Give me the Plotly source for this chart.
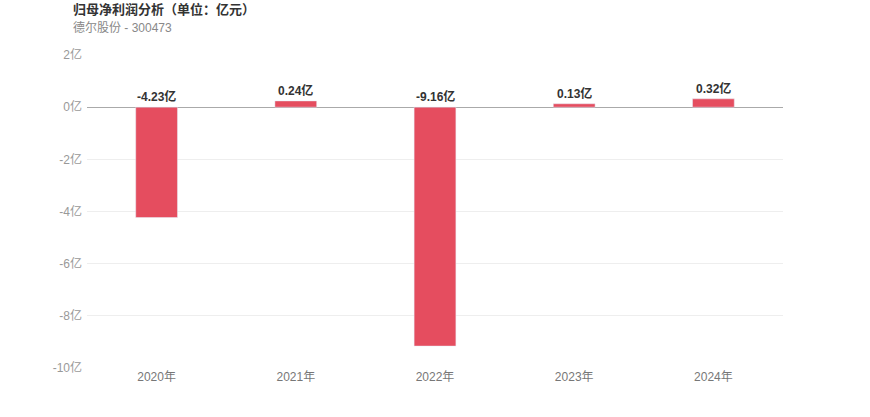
import plotly.graph_objects as go

years = ["2020年", "2021年", "2022年", "2023年", "2024年"]
values = [-4.23, 0.24, -9.16, 0.13, 0.32]
tick_vals = [2, 0, -2, -4, -6, -8, -10]
tick_text = ["2亿", "0亿", "-2亿", "-4亿", "-6亿", "-8亿", "-10亿"]

FONT = "'Liberation Sans', Arial, 'Noto Sans CJK SC', sans-serif"

fig = go.Figure()
fig.add_trace(go.Bar(
    x=years, y=values, marker_color="#e54d5f", width=0.3,
    hoverinfo="x+y",
))

for yr, v in zip(years, values):
    fig.add_annotation(
        x=yr, y=max(v, 0), text=f"<b>{v:.2f}亿</b>", showarrow=False,
        yanchor="bottom", yshift=1,
        font=dict(family=FONT, size=12, color="#333333"),
    )

fig.add_annotation(
    xref="paper", yref="paper", x=0, y=1.0, xanchor="left", yanchor="middle",
    text="<b>归母净利润分析（单位：亿元）</b>", showarrow=False, yshift=46,
    xshift=-16,
    font=dict(family=FONT, size=13, color="#333333"),
)
fig.add_annotation(
    xref="paper", yref="paper", x=0, y=1.0, xanchor="left", yanchor="middle",
    text="德尔股份 - 300473", showarrow=False, yshift=28, xshift=-16,
    font=dict(family=FONT, size=12, color="#888888"),
)

fig.update_layout(
    width=870, height=417,
    margin=dict(l=87, r=87, t=55, b=49),
    plot_bgcolor="white", paper_bgcolor="white",
    showlegend=False,
    font=dict(family=FONT, size=12, color="#888888"),
    xaxis=dict(showgrid=False, showline=False, ticks="", tickfont=dict(size=12, color="#777777")),
    yaxis=dict(
        range=[-10, 2], tickvals=tick_vals, ticktext=tick_text,
        showgrid=True, gridcolor="#eeeeee", gridwidth=1,
        zeroline=True, zerolinecolor="#aaaaaa", zerolinewidth=1,
        tickfont=dict(size=12, color="#999999"), ticklabelstandoff=4,
    ),
)

fig.write_html("out.html", config={"displayModeBar": False},
               post_script="document.body.style.margin='0';")
